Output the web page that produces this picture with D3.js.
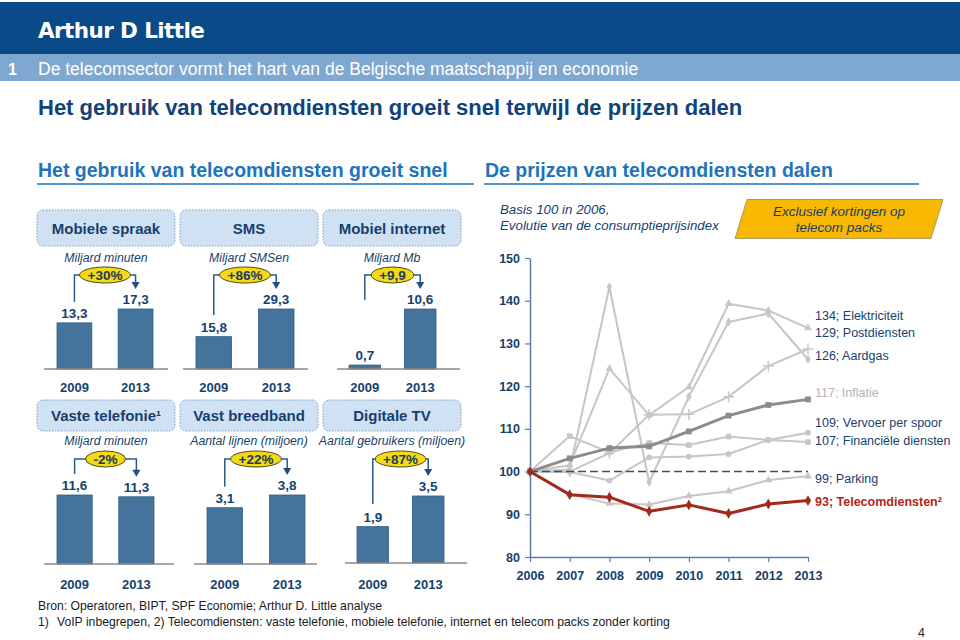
<!DOCTYPE html>
<html>
<head>
<meta charset="utf-8">
<script src="https://cdn.jsdelivr.net/npm/d3@7"></script>
<style>
  html, body { margin: 0; padding: 0; background: #fff; }
  svg { display: block; font-family: "Liberation Sans", Arial, sans-serif; }
</style>
</head>
<body>
<svg id="chart" width="960" height="640"></svg>
<script>
// Telecom slide - usage bars on the left, price index lines on the right

// ---- data: usage panels ----
const panelTitles = ["Mobiele spraak", "SMS", "Mobiel internet", "Vaste telefonie¹", "Vast breedband", "Digitale TV"];
const panelUnits = ["Miljard minuten", "Miljard SMSen", "Miljard Mb", "Miljard minuten", "Aantal lijnen (miljoen)", "Aantal gebruikers (miljoen)"];
const barYears = ["2009", "2013"];
const values2009 = [13.3, 15.8, 0.7, 11.6, 3.1, 1.9];
const values2013 = [17.3, 29.3, 10.6, 11.3, 3.8, 3.5];
const growthLabels = ["+30%", "+86%", "+9,9", "-2%", "+22%", "+87%"];

// ---- data: price index (basis 100 in 2006) ----
const priceYears = [2006, 2007, 2008, 2009, 2010, 2011, 2012, 2013];
const priceNames = ["Elektriciteit", "Postdiensten", "Aardgas", "Inflatie", "Vervoer per spoor", "Financiële diensten", "Parking", "Telecomdiensten²"];
const elektriciteit = [100, 101.5, 124.1, 113.2, 119.8, 139.3, 137.7, 133.6];
const postdiensten = [100, 100.0, 104.3, 113.3, 113.4, 117.5, 124.7, 128.7];
const aardgas = [100, 100.5, 143.2, 97.5, 117.5, 135.0, 137.0, 126.3];
const inflatie = [100, 103.1, 105.5, 105.9, 109.4, 113.1, 115.6, 116.9];
const vervoerPerSpoor = [100, 99.9, 97.9, 103.3, 103.5, 104.1, 107.4, 109.1];
const financieleDiensten = [100, 108.3, 104.5, 106.7, 106.2, 108.2, 107.4, 106.9];
const parking = [100, 94.7, 92.5, 92.3, 94.3, 95.4, 98.0, 98.9];
const telecomdiensten = [100, 94.6, 94.0, 90.7, 92.2, 90.2, 92.4, 93.2];
const yTicks = [80, 90, 100, 110, 120, 130, 140, 150];
const baseIndex = 100;

const priceValues = [elektriciteit, postdiensten, aardgas, inflatie, vervoerPerSpoor, financieleDiensten, parking, telecomdiensten];

// ---- colours ----
const navy = "#173f6d";
const titleBlue = "#1c74bb";
const barFill = "#44739b";
const lightGrey = "#c6c6c6";

const svg = d3.select("#chart");
const fmt = d3.formatLocale({ decimal: ",", thousands: ".", grouping: [3], currency: ["€", ""] }).format(".1f");

// ================= header =================
svg.append("rect").attr("x", 0).attr("y", 2).attr("width", 960).attr("height", 52).attr("fill", "#0b4a89");
svg.append("text")
    .attr("x", 38).attr("y", 38)
    .attr("fill", "#fff")
    .style("font-family", "'DejaVu Sans', sans-serif")
    .style("font-weight", "bold")
    .style("font-size", "21.5px")
    .style("letter-spacing", "-0.6px")
    .text("Arthur D Little");

svg.append("rect").attr("x", 0).attr("y", 54).attr("width", 960).attr("height", 27).attr("fill", "#7ea8cf");
svg.append("text").attr("x", 8).attr("y", 75).attr("fill", "#fff")
    .style("font-size", "16px").style("font-weight", "bold").text("1");
svg.append("text").attr("x", 38).attr("y", 75).attr("fill", "#fff")
    .style("font-size", "17.5px").text("De telecomsector vormt het hart van de Belgische maatschappij en economie");

svg.append("text").attr("x", 38).attr("y", 115).attr("fill", "#12427a")
    .style("font-size", "22px").style("font-weight", "bold")
    .text("Het gebruik van telecomdiensten groeit snel terwijl de prijzen dalen");

// section headings with underline
const sections = [
    { x: 37, x2: 474, text: "Het gebruik van telecomdiensten groeit snel" },
    { x: 484, x2: 919, text: "De prijzen van telecomdiensten dalen" }
];
sections.forEach(s => {
    svg.append("text").attr("x", s.x + 1).attr("y", 177).attr("fill", titleBlue)
        .style("font-size", "19.5px").style("font-weight", "bold").text(s.text);
    svg.append("line").attr("x1", s.x).attr("x2", s.x2).attr("y1", 184).attr("y2", 184)
        .attr("stroke", titleBlue).attr("stroke-width", 1.5);
});

// ================= usage panels =================
// layout per panel (positions only)
const panelLayout = [
    { boxX: 37,  boxY: 210, boxH: 36, unitY: 262, base: 369, barH: 60, bars: [57, 153],  axis: [44, 168],  bracketY: 275, maxDrop: 27, yearY: 392 },
    { boxX: 180, boxY: 210, boxH: 36, unitY: 262, base: 369, barH: 60, bars: [196, 294], axis: [183, 308], bracketY: 275, maxDrop: 40, yearY: 392 },
    { boxX: 323, boxY: 210, boxH: 36, unitY: 262, base: 369, barH: 60, bars: [349, 436], axis: [337, 460], bracketY: 275, maxDrop: 25, yearY: 392 },
    { boxX: 37,  boxY: 400, boxH: 31, unitY: 445, base: 564, barH: 69, bars: [57, 154],  axis: [44, 174],  bracketY: 459, maxDrop: 45, yearY: 589 },
    { boxX: 180, boxY: 400, boxH: 31, unitY: 445, base: 564, barH: 69, bars: [207, 305], axis: [194, 317], bracketY: 459, maxDrop: 45, yearY: 589 },
    { boxX: 323, boxY: 400, boxH: 31, unitY: 445, base: 563, barH: 67, bars: [357, 444], axis: [345, 467], bracketY: 459, maxDrop: 45, yearY: 589 }
];

function drawPanel(i) {
    const L = panelLayout[i];
    const g = svg.append("g").attr("class", "panel");
    const vals = [values2009[i], values2013[i]];

    // title box
    g.append("rect")
        .attr("x", L.boxX).attr("y", L.boxY).attr("width", 138).attr("height", L.boxH)
        .attr("rx", 6)
        .attr("fill", "#cfe1f3")
        .attr("stroke", "#7d9cc0").attr("stroke-width", 1).attr("stroke-dasharray", "1.5,1.5");
    g.append("text")
        .attr("x", L.boxX + 69).attr("y", L.boxY + L.boxH / 2 + 5.5)
        .attr("text-anchor", "middle").attr("fill", navy)
        .style("font-size", "15px").style("font-weight", "bold")
        .text(panelTitles[i]);

    g.append("text")
        .attr("x", L.boxX + 69).attr("y", L.unitY)
        .attr("text-anchor", "middle").attr("fill", navy)
        .style("font-size", "12.3px").style("font-style", "italic")
        .text(panelUnits[i]);

    const x = d3.scaleBand().domain(barYears).range(L.bars).paddingInner(0.43).paddingOuter(0);
    const y = d3.scaleLinear().domain([0, d3.max(vals)]).range([L.base, L.base - L.barH]);

    g.selectAll("rect.bar").data(vals).join("rect")
        .attr("class", "bar")
        .attr("x", (d, j) => x(barYears[j]))
        .attr("y", d => y(d))
        .attr("width", x.bandwidth())
        .attr("height", d => L.base - y(d))
        .attr("fill", barFill).attr("stroke", "#2f5f88").attr("stroke-width", 0.8);

    g.selectAll("text.val").data(vals).join("text")
        .attr("class", "val")
        .attr("x", (d, j) => x(barYears[j]) + x.bandwidth() / 2)
        .attr("y", d => y(d) - 5)
        .attr("text-anchor", "middle").attr("fill", navy)
        .style("font-size", "13.5px").style("font-weight", "bold")
        .text(d => fmt(d));

    // baseline
    g.append("line").attr("x1", L.axis[0]).attr("x2", L.axis[1]).attr("y1", L.base).attr("y2", L.base)
        .attr("stroke", "#8a8a8a").attr("stroke-width", 1.5);

    g.selectAll("text.yr").data(barYears).join("text")
        .attr("class", "yr")
        .attr("x", d => x(d) + x.bandwidth() / 2)
        .attr("y", L.yearY)
        .attr("text-anchor", "middle").attr("fill", navy)
        .style("font-size", "13px").style("font-weight", "bold")
        .text(d => d);

    // growth bracket
    const cx0 = x(barYears[0]) + x.bandwidth() / 2;
    const cx1 = x(barYears[1]) + x.bandwidth() / 2;
    const leftStart = Math.min(y(vals[0]) - 21, L.bracketY + L.maxDrop);
    const arrowEnd = y(vals[1]) - 21;
    g.append("path")
        .attr("d", `M${cx0},${leftStart}V${L.bracketY}H${cx1}V${arrowEnd - 5}`)
        .attr("fill", "none").attr("stroke", "#2b5a88").attr("stroke-width", 1.5);
    g.append("path")
        .attr("d", `M${cx1 - 4},${arrowEnd - 6}L${cx1 + 4},${arrowEnd - 6}L${cx1},${arrowEnd + 1}Z`)
        .attr("fill", "#1f4f82");

    const mid = (cx0 + cx1) / 2;
    const badge = g.append("g");
    const bt = badge.append("text")
        .attr("x", mid).attr("y", L.bracketY + 5)
        .attr("text-anchor", "middle").attr("fill", "#223a5c")
        .style("font-size", "13.5px").style("font-weight", "bold")
        .text(growthLabels[i]);
    const tw = bt.node().getComputedTextLength();
    badge.insert("ellipse", "text")
        .attr("cx", mid).attr("cy", L.bracketY)
        .attr("rx", tw / 2 + 8).attr("ry", 8)
        .attr("fill", "#f3da12").attr("stroke", "#4d4a22").attr("stroke-width", 1);
}

panelTitles.forEach((t, i) => drawPanel(i));

// ================= price index chart =================
svg.append("text").attr("x", 500).attr("y", 214).attr("fill", navy)
    .style("font-size", "13.3px").style("font-style", "italic").text("Basis 100 in 2006,");
svg.append("text").attr("x", 500).attr("y", 230).attr("fill", navy)
    .style("font-size", "13.3px").style("font-style", "italic").text("Evolutie van de consumptieprijsindex");

svg.append("path")
    .attr("d", "M747,199.5L943,199.5L931,238.5L735,238.5Z")
    .attr("fill", "#f8b700").attr("stroke", "#9a8a5a").attr("stroke-width", 0.8);
svg.append("text").attr("x", 839).attr("y", 216).attr("text-anchor", "middle").attr("fill", navy)
    .style("font-size", "13.5px").style("font-style", "italic").text("Exclusief kortingen op");
svg.append("text").attr("x", 839).attr("y", 232).attr("text-anchor", "middle").attr("fill", navy)
    .style("font-size", "13.5px").style("font-style", "italic").text("telecom packs");

const xP = d3.scalePoint().domain(priceYears).range([530, 808]);
const yP = d3.scaleLinear().domain([80, 150]).range([557, 258]);

const axisColor = "#5a7ea6";
const yAxis = svg.append("g").attr("transform", "translate(530,0)")
    .call(d3.axisLeft(yP).tickValues(yTicks).tickSize(5).tickSizeOuter(0).tickPadding(5));
const xAxis = svg.append("g").attr("transform", "translate(0,557)")
    .call(d3.axisBottom(xP).tickSize(5).tickSizeOuter(0).tickPadding(9));
[yAxis, xAxis].forEach(a => {
    a.select(".domain").attr("stroke", axisColor).attr("stroke-width", 1.5);
    a.selectAll(".tick line").attr("stroke", axisColor).attr("stroke-width", 1.2);
    a.selectAll(".tick text").attr("fill", navy)
        .style("font-family", "'Liberation Sans', Arial, sans-serif")
        .style("font-size", "12.5px").style("font-weight", "bold");
});

// series styles (kept apart from the data)
const seriesStyle = [
    { color: lightGrey, width: 2, symbol: d3.symbolTriangle, size: 26, label: navy },
    { color: lightGrey, width: 2, symbol: d3.symbolPlus || d3.symbolCross, size: 40, label: navy, stroked: true },
    { color: lightGrey, width: 2, symbol: d3.symbolDiamond, size: 26, label: navy },
    { color: "#8c8c8c", width: 3, symbol: d3.symbolSquare, size: 34, label: "#b4b4b4" },
    { color: lightGrey, width: 2, symbol: d3.symbolCircle, size: 26, label: navy },
    { color: lightGrey, width: 2, symbol: d3.symbolSquare, size: 30, label: navy },
    { color: lightGrey, width: 2, symbol: d3.symbolTriangle, size: 26, label: navy },
    { color: "#a3291a", width: 3, symbol: d3.symbolDiamond, size: 34, label: "#b3261a", bold: true }
];
// label offsets so the end labels do not collide
const labelDy = [-11, -15, -5, -6, -11, -1, 3, 0];

const line = d3.line().x((d, j) => xP(priceYears[j])).y(d => yP(d));
const drawOrder = [0, 1, 2, 4, 5, 6, 3, 7];

const linesG = svg.append("g");
function drawSeries(k) {
    const st = seriesStyle[k];
    const g = linesG.append("g");
    g.append("path").datum(priceValues[k])
        .attr("d", line)
        .attr("fill", "none").attr("stroke", st.color).attr("stroke-width", st.width)
        .attr("stroke-linejoin", "round");
    g.selectAll("path.pt").data(priceValues[k]).join("path")
        .attr("class", "pt")
        .attr("transform", (d, j) => `translate(${xP(priceYears[j])},${yP(d)})`)
        .attr("d", d3.symbol().type(st.symbol).size(st.size))
        .attr("fill", st.stroked ? "none" : st.color)
        .attr("stroke", st.color).attr("stroke-width", st.stroked ? 1.5 : 0);
}
drawOrder.slice(0, 6).forEach(drawSeries);

// dashed reference at basis 100
svg.append("line")
    .attr("x1", xP(priceYears[0])).attr("x2", xP(priceYears[priceYears.length - 1]))
    .attr("y1", yP(baseIndex)).attr("y2", yP(baseIndex))
    .attr("stroke", "#2f5378").attr("stroke-width", 1.4).attr("stroke-dasharray", "8,4");

drawOrder.slice(6).forEach(drawSeries);

// end labels
priceNames.forEach((name, k) => {
    const last = priceValues[k][priceValues[k].length - 1];
    svg.append("text")
        .attr("x", 815)
        .attr("y", yP(Math.round(last)) + 4.5 + labelDy[k])
        .attr("fill", seriesStyle[k].label)
        .style("font-size", "12.5px")
        .style("font-weight", seriesStyle[k].bold ? "bold" : "normal")
        .text(`${Math.round(last)}; ${name}`);
});

// ================= footer =================
const footFont = "'Liberation Sans Narrow', 'Arial Narrow', 'Liberation Sans', sans-serif";
svg.append("text").attr("x", 38).attr("y", 610).attr("fill", "#1b1b1b")
    .style("font-family", footFont).style("font-size", "12.2px")
    .text("Bron: Operatoren, BIPT, SPF Economie; Arthur D. Little analyse");
svg.append("text").attr("x", 38).attr("y", 626).attr("fill", "#1b1b1b")
    .style("font-family", footFont).style("font-size", "12.2px").text("1)");
svg.append("text").attr("x", 57).attr("y", 626).attr("fill", "#1b1b1b")
    .style("font-family", footFont).style("font-size", "12.2px")
    .text("VoIP inbegrepen, 2) Telecomdiensten: vaste telefonie, mobiele telefonie, internet en telecom packs zonder korting");
svg.append("text").attr("x", 918).attr("y", 637).attr("fill", "#1b1b1b")
    .style("font-family", footFont).style("font-size", "12.2px").text("4");
</script>
</body>
</html>
